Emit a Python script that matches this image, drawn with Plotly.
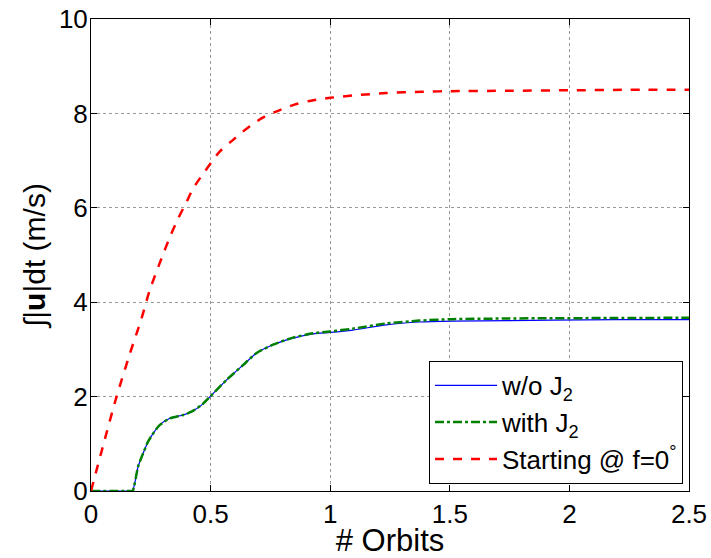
import plotly.graph_objects as go

# Orbit count (x) and accumulated control effort (y) for each case
orbits_nominal = [0, 0.15, 0.165, 0.174, 0.197, 0.218, 0.239, 0.26, 0.288, 0.33, 0.385, 0.42,
                  0.462, 0.5, 0.566, 0.636, 0.691, 0.761, 0.845, 0.928, 1.0, 1.095, 1.234,
                  1.373, 1.512, 1.75, 1.93, 2.2, 2.5]
effort_no_j2 = [0, 0, 0, 0, 0.52, 0.80, 1.05, 1.22, 1.40, 1.54, 1.61, 1.68,
                1.82, 2.01, 2.35, 2.67, 2.92, 3.10, 3.24, 3.33, 3.36, 3.41, 3.52,
                3.58, 3.60, 3.61, 3.62, 3.63, 3.63]
effort_with_j2 = [0, 0, 0, 0, 0.52, 0.80, 1.05, 1.22, 1.40, 1.54, 1.61, 1.68,
                  1.82, 2.01, 2.35, 2.67, 2.92, 3.10, 3.25, 3.34, 3.38, 3.44, 3.55,
                  3.61, 3.64, 3.655, 3.66, 3.665, 3.67]

orbits_f0 = [0, 0.05, 0.107, 0.16, 0.2115, 0.246, 0.295, 0.333, 0.365, 0.4, 0.427, 0.476,
             0.538, 0.594, 0.664, 0.726, 0.789, 0.859, 0.92, 1.0, 1.095, 1.234, 1.387,
             1.5, 1.75, 2.0, 2.25, 2.5]
effort_f0 = [0, 0.95, 2.0, 2.87, 3.66, 4.26, 4.93, 5.42, 5.78, 6.13, 6.41, 6.77,
             7.19, 7.44, 7.73, 7.93, 8.07, 8.2, 8.27, 8.33, 8.38, 8.43, 8.46,
             8.47, 8.48, 8.49, 8.5, 8.5]

x_ticks = [0, 0.5, 1, 1.5, 2, 2.5]
x_tick_text = ["0", "0.5", "1", "1.5", "2", "2.5"]
y_ticks = [0, 2, 4, 6, 8, 10]
y_tick_text = ["0", "2", "4", "6", "8", "10"]

FONT = "Liberation Sans, Arial, Helvetica, sans-serif"

fig = go.Figure()
fig.add_trace(go.Scatter(x=orbits_nominal, y=effort_no_j2, mode="lines",
                         name="w/o J<sub>2</sub>",
                         line=dict(color="#0000ff", width=1.2, shape="spline", smoothing=0.6)))
fig.add_trace(go.Scatter(x=orbits_nominal, y=effort_with_j2, mode="lines",
                         name="with J<sub>2</sub>",
                         line=dict(color="#008000", width=2.5, dash="dashdot",
                                   shape="spline", smoothing=0.6)))
fig.add_trace(go.Scatter(x=orbits_f0, y=effort_f0, mode="lines",
                         name="Starting @ f=0<sup>°</sup>",
                         line=dict(color="#ff0000", width=2.5, dash="dash",
                                   shape="spline", smoothing=0.8)))

axis_common = dict(
    showline=True, linecolor="black", linewidth=1, mirror="ticks",
    ticks="inside", ticklen=6, tickcolor="black",
    showgrid=True, gridcolor="#999999", griddash="dot", gridwidth=1,
    zeroline=False, automargin=False,
    tickfont=dict(family=FONT, size=26, color="black"),
)

fig.update_xaxes(range=[0, 2.5], tickvals=x_ticks, ticktext=x_tick_text,
                 title=dict(text="# Orbits", font=dict(family=FONT, size=31, color="black"),
                            standoff=0),
                 **axis_common)
fig.update_yaxes(range=[0, 10], tickvals=y_ticks, ticktext=y_tick_text,
                 ticklabelstandoff=-3,
                 title=dict(text="∫|<b>u</b>|dt (m/s)",
                            font=dict(family=FONT, size=30, color="black"), standoff=4),
                 **axis_common)

fig.update_layout(
    width=711, height=558,
    margin=dict(l=91, r=22, t=19, b=67),
    paper_bgcolor="white", plot_bgcolor="white",
    font=dict(family=FONT, color="black"),
    legend=dict(
        x=0.99, y=0.015, xanchor="right", yanchor="bottom",
        bgcolor="white", bordercolor="black", borderwidth=1,
        font=dict(family=FONT, size=26, color="black"),
        tracegroupgap=0, itemwidth=62,
    ),
)

fig.write_html("out.html")
